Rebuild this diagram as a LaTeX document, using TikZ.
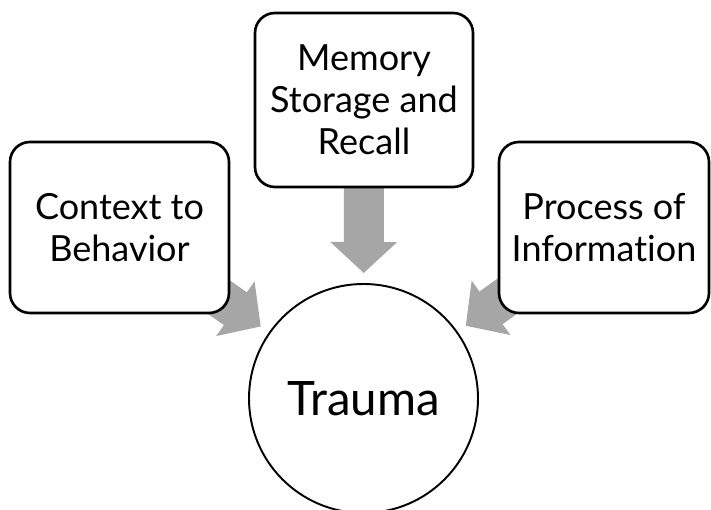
\documentclass[tikz,border=0pt]{standalone}
\usepackage{fontspec}
\setmainfont{Lato}[Ligatures={NoCommon,NoRequired}]
\usepackage{tikz}
\usetikzlibrary{positioning,arrows.meta,backgrounds}
\definecolor{feedgray}{RGB}{166,166,166}

\begin{document}
\begin{tikzpicture}[
    box/.style={rectangle, rounded corners=0.4cm, draw, line width=1.5pt, fill=white,
        minimum height=3.42cm, align=center, font=\fontsize{20.5}{24}\selectfont},
    feed/.style={feedgray, line width=0.8cm, shorten >=0.2cm,
        -{Triangle[width=1.3cm, length=0.62cm]}}
]
    \useasboundingbox (0,0) rectangle (14.22,10.2);

    \node[box, minimum width=4.38cm] (ctx) at (2.39,5.65) {Context to\\Behavior};
    \node[box, minimum width=4.36cm, minimum height=3.48cm] (mem) at (7.28,8.2) {Memory\\Storage and\\Recall};
    \node[box, minimum width=4.2cm] (info) at (12.08,5.65) {Process of\\Information};
    \node[circle, draw, line width=1.1pt, fill=white, minimum size=4.58cm,
        font=\fontsize{27}{32}\selectfont] (trauma) at (7.27,2.23) {Trauma};

    \begin{scope}[on background layer]
        \draw[feed] (ctx.center) -- (trauma);
        \draw[feed] (mem.center) -- (trauma);
        \draw[feed] (info.center) -- (trauma);
    \end{scope}
\end{tikzpicture}
\end{document}
